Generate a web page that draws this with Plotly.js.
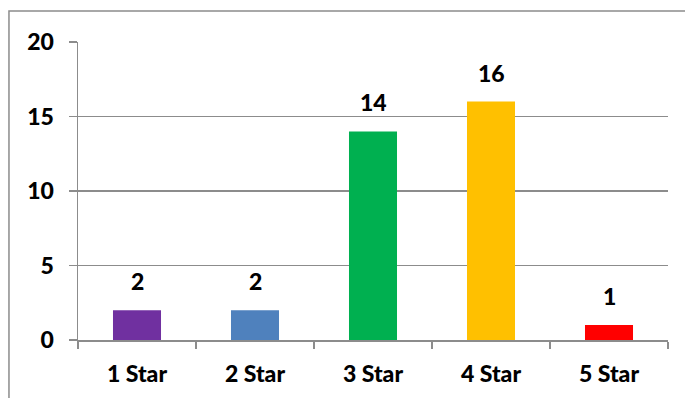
<!DOCTYPE html>
<html>
<head>
<meta charset="utf-8">
<script src="https://cdn.plot.ly/plotly-3.0.1.min.js"></script>
<style>html,body{margin:0;padding:0;background:#fff;}#chart{width:685px;height:398px;}</style>
</head>
<body>
<div id="chart"></div>
<script>
const categories = ["1 Star", "2 Star", "3 Star", "4 Star", "5 Star"];
const values = [2, 2, 14, 16, 1];
const barColors = ["#7030A0", "#4F81BD", "#00B050", "#FFC000", "#FF0000"];
const yTicks = [0, 5, 10, 15, 20];

const font = {family: "Lato, 'Open Sans', sans-serif", size: 23, color: "#000", weight: 900};
const gray = "#8c8c8c";

const trace = {
  type: "bar",
  x: categories,
  y: values,
  marker: {color: barColors},
  hoverinfo: "skip"
};

const annotations = categories.map((c, i) => ({
  x: c, y: values[i], xref: "x", yref: "y",
  text: String(values[i]),
  showarrow: false, yanchor: "bottom", yshift: 13,
  font: font
}));

const layout = {
  width: 685, height: 398,
  margin: {l: 78, r: 17, t: 42, b: 58},
  paper_bgcolor: "#fff", plot_bgcolor: "#fff",
  showlegend: false,
  bargap: 0.593,
  font: font,
  xaxis: {
    type: "category",
    showgrid: false,
    showline: true, linecolor: gray, linewidth: 1.5,
    ticks: "outside", tickson: "boundaries", ticklen: 7, tickcolor: gray, tickwidth: 1.5,
    ticklabelstandoff: 13,
    tickfont: font,
    fixedrange: true
  },
  yaxis: {
    range: [0, 20],
    tickvals: yTicks,
    ticktext: yTicks.map(String),
    showgrid: true, gridcolor: gray, gridwidth: 1.5,
    showline: true, linecolor: gray, linewidth: 1.5,
    ticks: "outside", ticklen: 8, tickcolor: gray, tickwidth: 1.5,
    ticklabelstandoff: 10,
    zeroline: false,
    tickfont: font,
    fixedrange: true
  },
  annotations: annotations,
  shapes: [{
    type: "rect", xref: "paper", yref: "paper",
    x0: -0.117, x1: 1.2, y0: -0.4, y1: 1.104,
    line: {color: gray, width: 1.5}, fillcolor: "rgba(0,0,0,0)", layer: "below"
  }]
};

Plotly.newPlot("chart", [trace], layout, {displayModeBar: false, staticPlot: true});
</script>
</body>
</html>
